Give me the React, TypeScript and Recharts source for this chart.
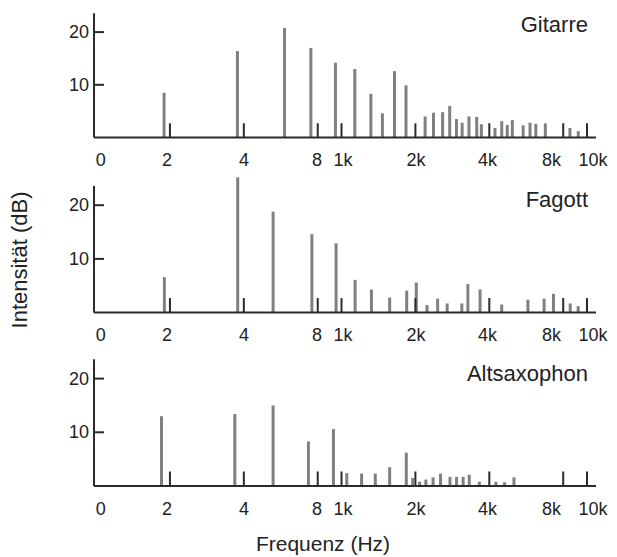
import { Bar, ComposedChart, ReferenceLine, XAxis, YAxis } from "recharts";

// Teiltöne: Frequenz in Hz, Pegel in dB
const gitarreHz = [189, 376, 585, 749, 943, 1131, 1315, 1465, 1641, 1828, 2187, 2366, 2577, 2754, 2935, 3095, 3299, 3549, 3707, 4212, 4487, 4725, 4956, 5486, 5850, 6177, 6754, 8506, 9199];
const gitarreDb = [8.5, 16.4, 20.8, 17.0, 14.2, 13.0, 8.3, 4.6, 12.6, 9.9, 4.0, 4.7, 4.8, 6.0, 3.5, 2.8, 4.0, 3.9, 2.5, 1.8, 3.1, 2.4, 3.3, 2.3, 2.8, 2.6, 2.7, 1.8, 1.2];

const fagottHz = [189, 376, 524, 754, 946, 1131, 1318, 1564, 1835, 2008, 2220, 2453, 2682, 3078, 3258, 3652, 4474, 5722, 6658, 7270, 8506, 9165];
const fagottDb = [6.6, 25.2, 18.8, 14.6, 12.9, 6.1, 4.3, 2.8, 4.1, 5.6, 1.4, 2.6, 1.7, 1.7, 5.3, 4.3, 1.5, 2.4, 2.6, 3.5, 1.7, 1.2];

const saxHz = [184, 366, 524, 730, 923, 1046, 1202, 1367, 1564, 1828, 1941, 2071, 2197, 2350, 2521, 2754, 2930, 3116, 3299, 3627, 4236, 4596, 5019];
const saxDb = [13.0, 13.4, 15.0, 8.3, 10.6, 2.4, 2.3, 2.3, 3.5, 6.2, 1.5, 0.8, 1.2, 1.6, 2.3, 1.7, 1.7, 1.7, 2.1, 0.8, 0.8, 0.7, 1.6];

// Achse: Striche an den Oktavmarken, Beschriftung leicht versetzt
const markHz = [200, 400, 800, 1000, 2000, 4000, 8000, 10000];
const labelHz = [104.5, 194.6, 400.8, 794.7, 1014, 2011, 3933, 7167, 10580];
const labelText = ["0", "2", "4", "8", "1k", "2k", "4k", "8k", "10k"];
const dbTicks = [10, 20];

const F_MIN = 98.1;
const F_MAX = 10882;
const DB_MAX = 25.3;
const AXIS_TOP = 23.6;
const MARK_LEN = 2.7;

const W = 617;
const H = 557;
const GRAU = "#808080";
const DUNKEL = "#2b2b2b";
const SCHRIFT = "#222";
const FONT = "'Liberation Sans', Arial, sans-serif";

const panels = [
  { name: "Gitarre", hz: gitarreHz, db: gitarreDb, zero: 137.5, unit: 5.27 },
  { name: "Fagott", hz: fagottHz, db: fagottDb, zero: 312.6, unit: 5.37 },
  { name: "Altsaxophon", hz: saxHz, db: saxDb, zero: 486, unit: 5.37 },
];

function labelFor(v: number) {
  const i = labelHz.indexOf(v);
  return i >= 0 ? labelText[i] : "";
}

function Stab(p: any) {
  const { x, y, width, height } = p;
  if (!height || height <= 0) return null;
  return <rect x={x + width / 2 - 1.5} y={y} width={3} height={height} fill={GRAU} />;
}

function DbTick({ x, y, payload }: any) {
  return (
    <g>
      <line x1={x + 5} x2={x + 15} y1={y} y2={y} stroke={DUNKEL} strokeWidth={2} />
      <text x={x} y={y} textAnchor="end" dominantBaseline="central" fontSize={18} fill={SCHRIFT}>
        {payload.value}
      </text>
    </g>
  );
}

function Spektrum({ hz, db, zero, unit }: { hz: number[]; db: number[]; zero: number; unit: number }) {
  const rows = hz.map((f, i) => ({ f, db: db[i] }));
  const plotH = DB_MAX * unit;
  const top = Math.floor(zero - plotH) - 4;
  const marginTop = zero - plotH - top;
  const height = marginTop + plotH + 40;

  return (
    <div style={{ position: "absolute", left: 0, top }}>
      <ComposedChart
        width={W}
        height={height}
        data={rows}
        margin={{ top: marginTop, right: 21, bottom: 0, left: 0 }}
      >
        <XAxis
          dataKey="f"
          type="number"
          scale="log"
          domain={[F_MIN, F_MAX]}
          allowDataOverflow
          ticks={labelHz}
          interval={0}
          tickFormatter={labelFor}
          tickLine={false}
          tickSize={0}
          tickMargin={16}
          height={40}
          axisLine={{ stroke: DUNKEL, strokeWidth: 2 }}
          tick={{ fontSize: 18, fill: SCHRIFT }}
        />
        <YAxis
          type="number"
          domain={[0, DB_MAX]}
          allowDataOverflow
          ticks={dbTicks}
          width={94}
          axisLine={false}
          tickLine={false}
          tickSize={0}
          tickMargin={5}
          tick={<DbTick />}
        />
        <Bar dataKey="db" barSize={3} shape={<Stab />} isAnimationActive={false} />
        <ReferenceLine
          segment={[{ x: F_MIN, y: 0 }, { x: F_MIN, y: AXIS_TOP }]}
          stroke={DUNKEL}
          strokeWidth={2}
          ifOverflow="visible"
        />
        {markHz.map((f) => (
          <ReferenceLine
            key={f}
            segment={[{ x: f, y: 0 }, { x: f, y: MARK_LEN }]}
            stroke={DUNKEL}
            strokeWidth={2}
            ifOverflow="visible"
          />
        ))}
      </ComposedChart>
    </div>
  );
}

export default function App() {
  return (
    <div style={{ position: "absolute", left: 0, top: 0, width: W, height: H, background: "#fff", fontFamily: FONT }}>
      {panels.map((p) => (
        <Spektrum key={p.name} hz={p.hz} db={p.db} zero={p.zero} unit={p.unit} />
      ))}
      <svg width={W} height={H} style={{ position: "absolute", left: 0, top: 0, pointerEvents: "none" }}>
        {panels.map((p) => (
          <text
            key={p.name}
            x={588}
            y={p.zero - 113}
            textAnchor="end"
            dominantBaseline="central"
            fontSize={22}
            fill={SCHRIFT}
          >
            {p.name}
          </text>
        ))}
        <text
          x={19}
          y={260}
          transform="rotate(-90 19 260)"
          textAnchor="middle"
          dominantBaseline="central"
          fontSize={22}
          fill={SCHRIFT}
        >
          Intensität (dB)
        </text>
        <text x={323} y={543} textAnchor="middle" dominantBaseline="central" fontSize={21} fill={SCHRIFT}>
          Frequenz (Hz)
        </text>
      </svg>
    </div>
  );
}
